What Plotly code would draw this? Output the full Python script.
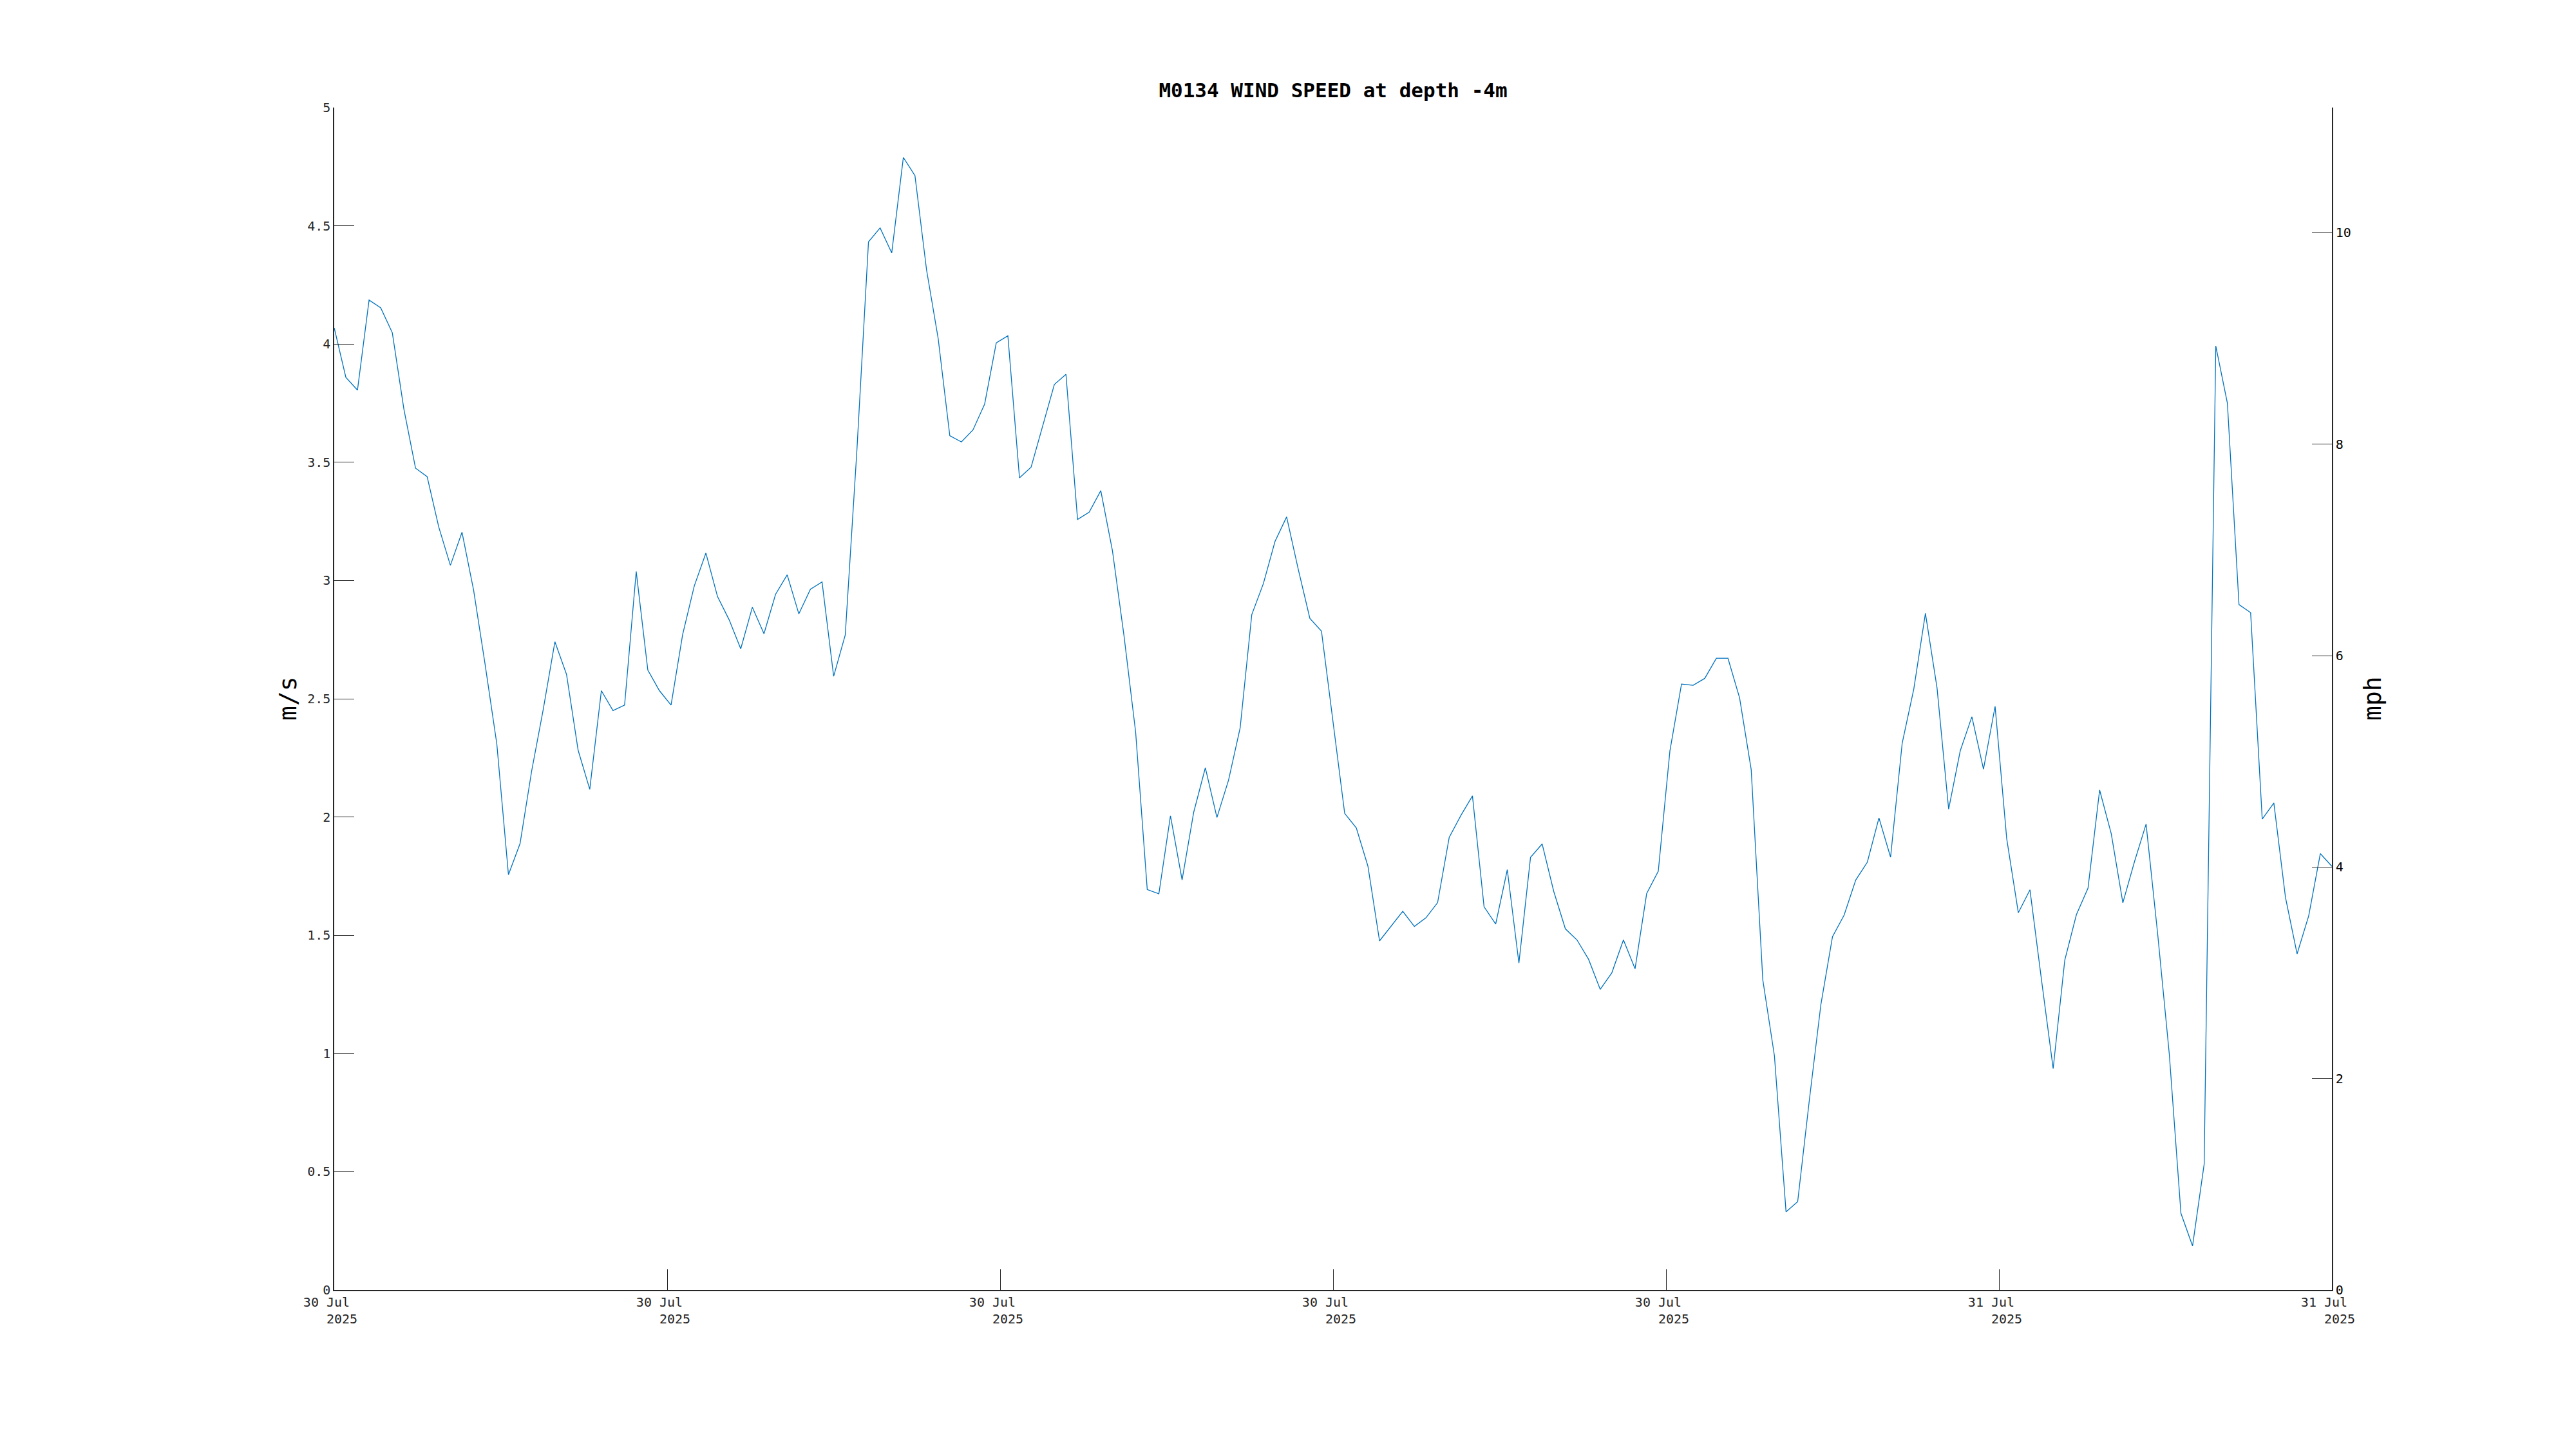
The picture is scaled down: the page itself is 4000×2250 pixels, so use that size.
import pandas as pd
import plotly.graph_objects as go

# ---- data ----
wind_ms = [
    4.068, 3.859, 3.805, 4.186, 4.153, 4.048, 3.724, 3.475, 3.439, 3.226,
    3.064, 3.204, 2.959, 2.642, 2.308, 1.756, 1.888, 2.195, 2.456, 2.741,
    2.603, 2.282, 2.117, 2.534, 2.450, 2.473, 3.038, 2.621, 2.534, 2.473,
    2.772, 2.977, 3.116, 2.932, 2.834, 2.711, 2.887, 2.775, 2.942, 3.024,
    2.859, 2.963, 2.994, 2.595, 2.770, 3.550, 4.432, 4.491, 4.385, 4.789,
    4.712, 4.313, 4.023, 3.612, 3.586, 3.637, 3.746, 4.005, 4.035, 3.434,
    3.479, 3.653, 3.829, 3.872, 3.258, 3.289, 3.380, 3.127, 2.766, 2.359,
    1.693, 1.675, 2.005, 1.734, 2.020, 2.208, 1.998, 2.156, 2.377, 2.856,
    2.987, 3.165, 3.269, 3.048, 2.840, 2.786, 2.400, 2.015, 1.954, 1.792,
    1.476, 1.537, 1.601, 1.537, 1.574, 1.638, 1.914, 2.006, 2.089, 1.620,
    1.547, 1.777, 1.382, 1.829, 1.886, 1.685, 1.527, 1.480, 1.398, 1.271,
    1.341, 1.480, 1.358, 1.676, 1.771, 2.279, 2.562, 2.557, 2.586, 2.671,
    2.671, 2.504, 2.200, 1.311, 0.990, 0.330, 0.373, 0.800, 1.207, 1.494,
    1.585, 1.733, 1.809, 1.996, 1.830, 2.312, 2.541, 2.861, 2.546, 2.033,
    2.280, 2.424, 2.202, 2.468, 1.908, 1.595, 1.692, 1.309, 0.936, 1.395,
    1.587, 1.699, 2.114, 1.929, 1.637, 1.811, 1.970, 1.504, 0.996, 0.324,
    0.186, 0.532, 3.992, 3.750, 2.898, 2.864, 1.991, 2.059, 1.660, 1.421,
    1.582, 1.845, 1.791,
]
start_time = "2025-07-30 01:30"
sample_interval = "10min"
x_tick_labels = ["30 Jul", "30 Jul", "30 Jul", "30 Jul", "30 Jul", "31 Jul", "31 Jul"]
x_tick_year = "2025"
left_ticks = [0, 0.5, 1, 1.5, 2, 2.5, 3, 3.5, 4, 4.5, 5]
right_ticks = [0, 2, 4, 6, 8, 10]
MS_PER_MPH = 0.44704

times = pd.date_range(start_time, periods=len(wind_ms), freq=sample_interval)
t0, t1 = times[0], times[-1]
n_ticks = len(x_tick_labels)
tickvals = [t0 + (t1 - t0) * k / (n_ticks - 1) for k in range(n_ticks)]
NB = "\u00a0"
ticktext = [f"{lab}{NB}{NB}<br>{NB}{NB}{x_tick_year}" for lab in x_tick_labels]

FONT = "DejaVu Sans Mono"
AX = "#262626"
OFF = 8  # default page body margin
W, H = 4000 - OFF, 2250 - OFF
L, R, T, B = 519 - OFF, 3621 - OFF, 167 - OFF, 2003 - OFF

fig = go.Figure()
fig.add_trace(go.Scatter(x=times, y=wind_ms, mode="lines",
                         line=dict(color="#0072BD", width=1.3),
                         showlegend=False))
# invisible trace for right axis
fig.add_trace(go.Scatter(x=[t0], y=[0], yaxis="y2", mode="lines",
                         line=dict(width=0), showlegend=False, hoverinfo="skip"))

fig.update_layout(
    width=W, height=H, autosize=False,
    margin=dict(l=L, r=W - R, t=T, b=H - B, pad=0),
    paper_bgcolor="white", plot_bgcolor="white",
    font=dict(family=FONT, size=20, color=AX),
    title=dict(text="<b>M0134 WIND SPEED at depth -4m</b>",
               font=dict(family=FONT, size=31, color="black"),
               x=0.5, xref="paper", xanchor="center",
               y=1 - 132 / H, yref="container", yanchor="middle"),
    xaxis=dict(type="date", range=[t0, t1], tickmode="array",
               tickvals=tickvals, ticktext=ticktext,
               showgrid=False, zeroline=False, showline=True,
               linecolor=AX, linewidth=1.5, ticks="inside", ticklen=32,
               tickcolor=AX, tickwidth=1.2,
               tickfont=dict(family=FONT, size=20, color=AX)),
    yaxis=dict(range=[0, 5], tickmode="array", tickvals=left_ticks,
               showgrid=False, zeroline=False, showline=True,
               linecolor=AX, linewidth=1.5, ticks="inside", ticklen=31,
               tickcolor=AX, tickwidth=1.2,
               tickfont=dict(family=FONT, size=20, color=AX)),
    yaxis2=dict(range=[0, 5 / MS_PER_MPH], overlaying="y", side="right",
                tickmode="array", tickvals=right_ticks,
                showgrid=False, zeroline=False, showline=True,
                linecolor=AX, linewidth=1.5, ticks="inside", ticklen=31,
                tickcolor=AX, tickwidth=1.2,
                tickfont=dict(family=FONT, size=20, color="black")),
    annotations=[
        dict(text="m/s", xref="paper", yref="paper",
             x=(447 - 519) / (3621 - 519), y=0.5, xanchor="center", yanchor="middle",
             textangle=-90, showarrow=False,
             font=dict(family=FONT, size=38, color="black")),
        dict(text="mph", xref="paper", yref="paper",
             x=(3684 - 519) / (3621 - 519), y=0.5, xanchor="center", yanchor="middle",
             textangle=-90, showarrow=False,
             font=dict(family=FONT, size=38, color="black")),
    ],
)

fig.write_html("out.html")
